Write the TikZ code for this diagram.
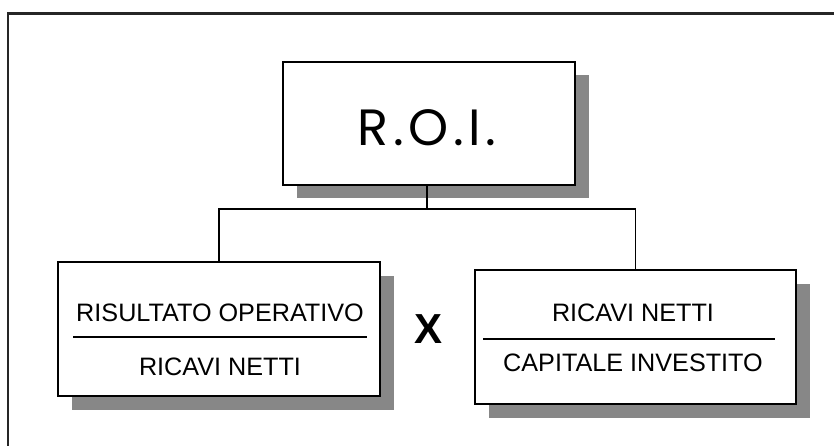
\documentclass[tikz,border=0pt]{standalone}
\usepackage{fontspec}
\setmainfont{Liberation Sans}
\newfontfamily\roifont[LetterSpace=9]{Poppins}
\begin{document}
\begin{tikzpicture}[x=1pt,y=-1pt,
  box/.style={draw=black, line width=2.2pt, fill=white, rectangle, inner sep=0pt},
  shadowbox/.style={fill=black!47, draw=none, rectangle, inner sep=0pt},
  lbl/.style={font=\fontsize{25.2}{29}\selectfont, inner sep=0pt, anchor=center},
  conn/.style={draw=black, line width=1.8pt},
  sep/.style={draw=black, line width=1.8pt}]
\useasboundingbox (0,0) rectangle (834,446);
\fill[white] (0,0) rectangle (834,446);
% outer frame (top and left only visible)
\draw[line width=2.6pt, black!85] (8,446) -- (8,13.5) -- (834,13.5);
% shadows
\node[shadowbox, minimum width=292pt, minimum height=123pt] (roish) at (442.5,137) {};
\node[shadowbox, minimum width=322pt, minimum height=134pt] (lsh) at (232.5,342.5) {};
\node[shadowbox, minimum width=321pt, minimum height=134pt] (rsh) at (649,350.5) {};
% boxes
\node[box, minimum width=292pt, minimum height=123pt] (roi) at (429,123.5) {};
\node[box, minimum width=322pt, minimum height=134pt] (lft) at (219,329) {};
\node[box, minimum width=321pt, minimum height=134pt] (rgt) at (635.5,337) {};
% texts
\node[font=\roifont\fontsize{51}{56}\selectfont, inner sep=0pt] (roit) at (427,128) {R.O.I.};
\node[lbl] (l1) at (220,313) {RISULTATO OPERATIVO};
\node[lbl] (l2) at (220,367) {RICAVI NETTI};
\node[lbl] (r1) at (633,313) {RICAVI NETTI};
\node[lbl] (r2) at (633,363) {CAPITALE INVESTITO};
\node[font=\bfseries\fontsize{42}{46}\selectfont, inner sep=0pt] (times) at (428,329) {X};
% separators
\coordinate (lsa) at (73,337); \coordinate (lsb) at (367,337);
\coordinate (rsa) at (483,339); \coordinate (rsb) at (775,339);
\draw[sep] (lsa) -- (lsb);
\draw[sep] (rsa) -- (rsb);
% connectors
\coordinate (j) at (427,209);
\draw[conn] (roi.south -| j) -- (j);
\draw[conn] (lft.north) |- (j) -| (rgt.north);
\end{tikzpicture}
\end{document}
